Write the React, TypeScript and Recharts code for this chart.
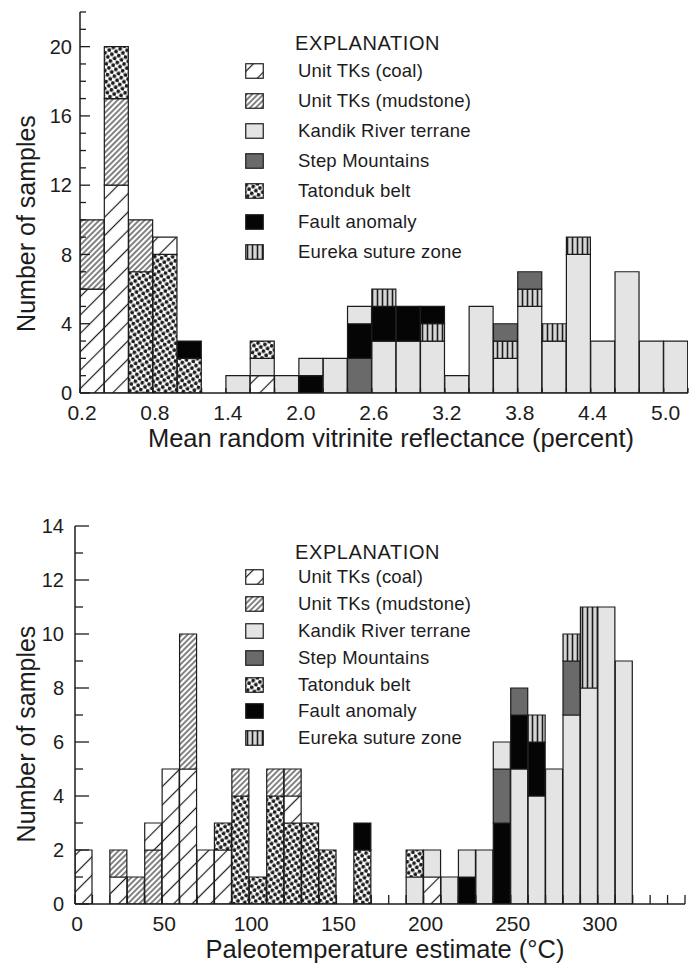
import React from "react";
import { Bar, BarChart, Cell, Label, Legend, XAxis, YAxis } from "recharts";

const FONT = '"Liberation Sans", Arial, Helvetica, sans-serif';
const INK = "#1c1c1c";

// legend order: unit code -> name
const unitCodes = ["C", "M", "K", "S", "T", "F", "E"];
const unitNames = [
  "Unit TKs (coal)",
  "Unit TKs (mudstone)",
  "Kandik River terrane",
  "Step Mountains",
  "Tatonduk belt",
  "Fault anomaly",
  "Eureka suture zone",
];

type Seg = [string, number];

// upper panel: mean random vitrinite reflectance, 0.2 % bins (bin centres)
const roBins = [
  0.3, 0.5, 0.7, 0.9, 1.1, 1.3, 1.5, 1.7, 1.9, 2.1, 2.3, 2.5, 2.7, 2.9, 3.1,
  3.3, 3.5, 3.7, 3.9, 4.1, 4.3, 4.5, 4.7, 4.9, 5.1,
];
// stacked segments from the bottom up
const roStacks: Seg[][] = [
  [["C", 6], ["M", 4]],
  [["C", 12], ["M", 5], ["T", 3]],
  [["T", 7], ["M", 3]],
  [["T", 8], ["C", 1]],
  [["T", 2], ["F", 1]],
  [],
  [["K", 1]],
  [["C", 1], ["K", 1], ["T", 1]],
  [["K", 1]],
  [["F", 1], ["K", 1]],
  [["K", 2]],
  [["S", 2], ["F", 2], ["K", 1]],
  [["K", 3], ["F", 2], ["E", 1]],
  [["K", 3], ["F", 2]],
  [["K", 3], ["E", 1], ["F", 1]],
  [["K", 1]],
  [["K", 5]],
  [["K", 2], ["E", 1], ["S", 1]],
  [["K", 5], ["E", 1], ["S", 1]],
  [["K", 3], ["E", 1]],
  [["K", 8], ["E", 1]],
  [["K", 3]],
  [["K", 7]],
  [["K", 3]],
  [["K", 3]],
];
const roLabelTicks = [0.2, 0.8, 1.4, 2.0, 2.6, 3.2, 3.8, 4.4, 5.0];
const roMinorTicks = [
  0.2, 0.4, 0.6, 0.8, 1.0, 1.2, 1.4, 1.6, 1.8, 2.0, 2.2, 2.4, 2.6, 2.8, 3.0,
  3.2, 3.4, 3.6, 3.8, 4.0, 4.2, 4.4, 4.6, 4.8, 5.0, 5.2,
];
const roCountLabels = [0, 4, 8, 12, 16, 20];
const roCountTicks = [
  0, 1, 2, 3, 4, 5, 6, 7, 8, 9, 10, 11, 12, 13, 14, 15, 16, 17, 18, 19, 20, 21,
  22,
];

// lower panel: paleotemperature, 10 degC bins (bin centres)
const tempBins = [
  5, 15, 25, 35, 45, 55, 65, 75, 85, 95, 105, 115, 125, 135, 145, 155, 165, 175,
  185, 195, 205, 215, 225, 235, 245, 255, 265, 275, 285, 295, 305, 315, 325,
  335, 345,
];
const tempStacks: Seg[][] = [
  [["C", 2]],
  [],
  [["C", 1], ["M", 1]],
  [["M", 1]],
  [["M", 2], ["C", 1]],
  [["C", 5]],
  [["C", 5], ["M", 5]],
  [["C", 2]],
  [["C", 2], ["T", 1]],
  [["T", 4], ["M", 1]],
  [["T", 1]],
  [["T", 4], ["M", 1]],
  [["T", 3], ["C", 1], ["M", 1]],
  [["T", 3]],
  [["T", 2]],
  [],
  [["T", 2], ["F", 1]],
  [],
  [],
  [["K", 1], ["T", 1]],
  [["C", 1], ["K", 1]],
  [["K", 1]],
  [["F", 1], ["K", 1]],
  [["K", 2]],
  [["F", 3], ["S", 2], ["K", 1]],
  [["K", 5], ["F", 2], ["S", 1]],
  [["K", 4], ["F", 2], ["E", 1]],
  [["K", 5]],
  [["K", 7], ["S", 2], ["E", 1]],
  [["K", 8], ["E", 3]],
  [["K", 11]],
  [["K", 9]],
  [],
  [],
  [],
];
const tempLabelTicks = [0, 50, 100, 150, 200, 250, 300];
const tempMinorTicks = [
  0, 10, 20, 30, 40, 50, 60, 70, 80, 90, 100, 110, 120, 130, 140, 150, 160, 170,
  180, 190, 200, 210, 220, 230, 240, 250, 260, 270, 280, 290, 300, 310, 320,
  330, 340, 350,
];
const tempCountLabels = [0, 2, 4, 6, 8, 10, 12, 14];
const tempCountTicks = [0, 1, 2, 3, 4, 5, 6, 7, 8, 9, 10, 11, 12, 13, 14];

const LAYERS = [0, 1, 2];

function buildRows(bins: number[], stacks: Seg[][]) {
  return bins.map((x, i) => {
    const row: any = { x };
    LAYERS.forEach((k) => {
      const seg = stacks[i][k];
      row[`v${k}`] = seg ? seg[1] : 0;
      row[`u${k}`] = seg ? seg[0] : null;
    });
    return row;
  });
}

const isIn = (list: number[], v: number) =>
  list.some((l) => Math.abs(l - v) < 1e-6);

function PatternDefs() {
  return (
    <svg width={0} height={0} style={{ position: "absolute" }}>
      <defs>
        <pattern id="pat-C" patternUnits="userSpaceOnUse" width={13} height={13} patternTransform="rotate(45)">
          <rect width={13} height={13} fill="#fff" />
          <line x1={6.5} y1={0} x2={6.5} y2={13} stroke={INK} strokeWidth={1.2} />
        </pattern>
        <pattern id="pat-M" patternUnits="userSpaceOnUse" width={4} height={4} patternTransform="rotate(45)">
          <rect width={4} height={4} fill="#fff" />
          <line x1={2} y1={0} x2={2} y2={4} stroke={INK} strokeWidth={1.1} />
        </pattern>
        <pattern id="pat-K" patternUnits="userSpaceOnUse" width={4} height={4}>
          <rect width={4} height={4} fill="#e4e4e4" />
        </pattern>
        <pattern id="pat-S" patternUnits="userSpaceOnUse" width={4} height={4}>
          <rect width={4} height={4} fill="#6a6a6a" />
        </pattern>
        <pattern id="pat-T" patternUnits="userSpaceOnUse" width={7} height={7} patternTransform="rotate(12)">
          <rect width={7} height={7} fill="#fff" />
          <circle cx={1.75} cy={1.75} r={1.9} fill={INK} />
          <circle cx={5.25} cy={5.25} r={1.9} fill={INK} />
        </pattern>
        <pattern id="pat-F" patternUnits="userSpaceOnUse" width={4} height={4}>
          <rect width={4} height={4} fill="#050505" />
        </pattern>
        <pattern id="pat-E" patternUnits="userSpaceOnUse" width={5} height={5}>
          <rect width={5} height={5} fill="#d6d6d6" />
          <line x1={2.5} y1={0} x2={2.5} y2={5} stroke={INK} strokeWidth={1.6} />
        </pattern>
      </defs>
    </svg>
  );
}

function Explanation({ headH, rowH, fontSize }: { headH: number; rowH: number; fontSize: number }) {
  return (
    <div style={{ fontFamily: FONT, color: INK, fontSize }}>
      <div style={{ height: headH, lineHeight: `${headH}px`, paddingLeft: 50, fontSize: 20, letterSpacing: 0.6 }}>
        EXPLANATION
      </div>
      {unitCodes.map((u, i) => (
        <div key={u} style={{ height: rowH, display: "flex", alignItems: "center" }}>
          <svg width={19} height={16} style={{ marginRight: 34, flex: "none" }}>
            <rect x={0.75} y={0.75} width={17.5} height={14.5} fill={`url(#pat-${u})`} stroke={INK} strokeWidth={1.2} />
          </svg>
          <span style={{ whiteSpace: "nowrap", letterSpacing: 0.2 }}>{unitNames[i]}</span>
        </div>
      ))}
    </div>
  );
}

interface PanelProps {
  rows: any[];
  height: number;
  margin: { top: number; right: number; bottom: number; left: number };
  xDomain: [number, number];
  xTicks: number[];
  xLabels: number[];
  xFmt: (v: number) => string;
  yDomain: [number, number];
  yTicks: number[];
  yLabels: number[];
  yAxisWidth: number;
  xAxisHeight: number;
  yGap: number;
  tickLen: { top: number; bottom: number; major: number; minor: number; right: number };
  xTitle: string;
  xTitleDx: number;
  yTitleDy: number;
  legend: { left: number; top: number; headH: number; rowH: number; fontSize: number };
}

function Panel(p: PanelProps) {
  const line = { stroke: INK, strokeWidth: 1.5 };

  const bottomTick = (t: any) => {
    const v = t.payload.value;
    const on = isIn(p.xLabels, v);
    return (
      <g>
        <line x1={t.x} x2={t.x} y1={t.y} y2={t.y - p.tickLen.bottom} stroke={INK} strokeWidth={1.3} />
        {on && (
          <text x={t.x + 2} y={t.y + 12} dy="0.72em" textAnchor="middle" fontSize={21} fontFamily={FONT} fill={INK}>
            {p.xFmt(v)}
          </text>
        )}
      </g>
    );
  };
  const topTick = (t: any) => (
    <line x1={t.x} x2={t.x} y1={t.y} y2={t.y + p.tickLen.top} stroke={INK} strokeWidth={1.3} />
  );
  const leftTick = (t: any) => {
    const v = t.payload.value;
    const on = isIn(p.yLabels, v);
    return (
      <g>
        <line x1={t.x} x2={t.x + (on ? p.tickLen.major : p.tickLen.minor)} y1={t.y} y2={t.y} stroke={INK} strokeWidth={1.3} />
        {on && (
          <text x={t.x - p.yGap} y={t.y} dy="0.36em" textAnchor="end" fontSize={20} fontFamily={FONT} fill={INK}>
            {v}
          </text>
        )}
      </g>
    );
  };
  const rightTick = (t: any) => (
    <line x1={t.x} x2={t.x - p.tickLen.right} y1={t.y} y2={t.y} stroke={INK} strokeWidth={1.3} />
  );

  return (
    <BarChart
      width={695}
      height={p.height}
      data={p.rows}
      margin={p.margin}
      barCategoryGap={0}
      barGap={0}
    >
      <XAxis
        xAxisId="b"
        dataKey="x"
        type="number"
        domain={p.xDomain}
        allowDataOverflow
        ticks={p.xTicks}
        interval={0}
        height={p.xAxisHeight}
        tickSize={0}
        tickMargin={0}
        tickLine={false}
        axisLine={line}
        tick={bottomTick}
      >
        <Label
          content={(lp: any) => {
            const vb = lp.viewBox;
            return (
              <text
                x={vb.x + vb.width / 2 + p.xTitleDx}
                y={vb.y + 54}
                textAnchor="middle"
                fontSize={25.5}
                fontFamily={FONT}
                fill={INK}
              >
                {p.xTitle}
              </text>
            );
          }}
        />
      </XAxis>
      <XAxis
        xAxisId="t"
        orientation="top"
        type="number"
        domain={p.xDomain}
        allowDataOverflow
        ticks={p.xTicks}
        interval={0}
        height={0}
        tickSize={0}
        tickMargin={0}
        tickLine={false}
        axisLine={line}
        tick={topTick}
      />
      <YAxis
        yAxisId="l"
        type="number"
        domain={p.yDomain}
        allowDataOverflow
        ticks={p.yTicks}
        interval={0}
        width={p.yAxisWidth}
        tickSize={0}
        tickMargin={0}
        tickLine={false}
        axisLine={line}
        tick={leftTick}
      >
        <Label
          content={(lp: any) => {
            const vb = lp.viewBox;
            const cx = vb.x + 15;
            const cy = vb.y + vb.height / 2 + p.yTitleDy;
            return (
              <text
                x={cx}
                y={cy}
                transform={`rotate(-90 ${cx} ${cy})`}
                textAnchor="middle"
                fontSize={25}
                fontFamily={FONT}
                fill={INK}
              >
                Number of samples
              </text>
            );
          }}
        />
      </YAxis>
      <YAxis
        yAxisId="r"
        orientation="right"
        type="number"
        domain={p.yDomain}
        allowDataOverflow
        ticks={p.yTicks}
        interval={0}
        width={0}
        tickSize={0}
        tickMargin={0}
        tickLine={false}
        axisLine={line}
        tick={rightTick}
      />
      {LAYERS.map((k) => (
        <Bar
          key={k}
          xAxisId="b"
          yAxisId="l"
          dataKey={`v${k}`}
          stackId="s"
          isAnimationActive={false}
        >
          {p.rows.map((r, i) => {
            const u = r[`u${k}`];
            return (
              <Cell
                key={i}
                fill={u ? `url(#pat-${u})` : "none"}
                stroke={INK}
                strokeWidth={1.2}
              />
            );
          })}
        </Bar>
      ))}
      <Legend
        layout="vertical"
        align="center"
        verticalAlign="middle"
        wrapperStyle={{ left: p.legend.left, top: p.legend.top, width: 280 }}
        content={() => (
          <Explanation headH={p.legend.headH} rowH={p.legend.rowH} fontSize={p.legend.fontSize} />
        )}
      />
    </BarChart>
  );
}

export default function App() {
  const roRows = buildRows(roBins, roStacks);
  const tempRows = buildRows(tempBins, tempStacks);

  return (
    <div
      style={{
        position: "absolute",
        left: 0,
        top: 0,
        width: 695,
        height: 964,
        background: "#fff",
        fontFamily: FONT,
      }}
    >
      <PatternDefs />
      <div style={{ position: "absolute", left: 0, top: 0 }}>
        <Panel
          rows={roRows}
          height={460}
          margin={{ top: 12, right: 7, bottom: 7, left: 20 }}
          xDomain={[0.2, 5.2]}
          xTicks={roMinorTicks}
          xLabels={roLabelTicks}
          xFmt={(v) => v.toFixed(1)}
          yDomain={[0, 22]}
          yTicks={roCountTicks}
          yLabels={roCountLabels}
          yAxisWidth={60}
          xAxisHeight={60}
          yGap={8}
          tickLen={{ top: 8, bottom: 5, major: 10, minor: 6, right: 7 }}
          xTitle="Mean random vitrinite reflectance (percent)"
          xTitleDx={7}
          yTitleDy={21}
          legend={{ left: 245, top: 30, headH: 26, rowH: 30.1, fontSize: 18.5 }}
        />
      </div>
      <div style={{ position: "absolute", left: 0, top: 480 }}>
        <Panel
          rows={tempRows}
          height={484}
          margin={{ top: 46, right: 10, bottom: 10, left: 20 }}
          xDomain={[0, 350]}
          xTicks={tempMinorTicks}
          xLabels={tempLabelTicks}
          xFmt={(v) => String(v)}
          yDomain={[0, 14]}
          yTicks={tempCountTicks}
          yLabels={tempCountLabels}
          yAxisWidth={55}
          xAxisHeight={50}
          yGap={11}
          tickLen={{ top: 11, bottom: 9, major: 14, minor: 8, right: 11 }}
          xTitle="Paleotemperature estimate (°C)"
          xTitleDx={5}
          yTitleDy={19}
          legend={{ left: 245, top: 60, headH: 24, rowH: 26.8, fontSize: 18.5 }}
        />
      </div>
    </div>
  );
}
